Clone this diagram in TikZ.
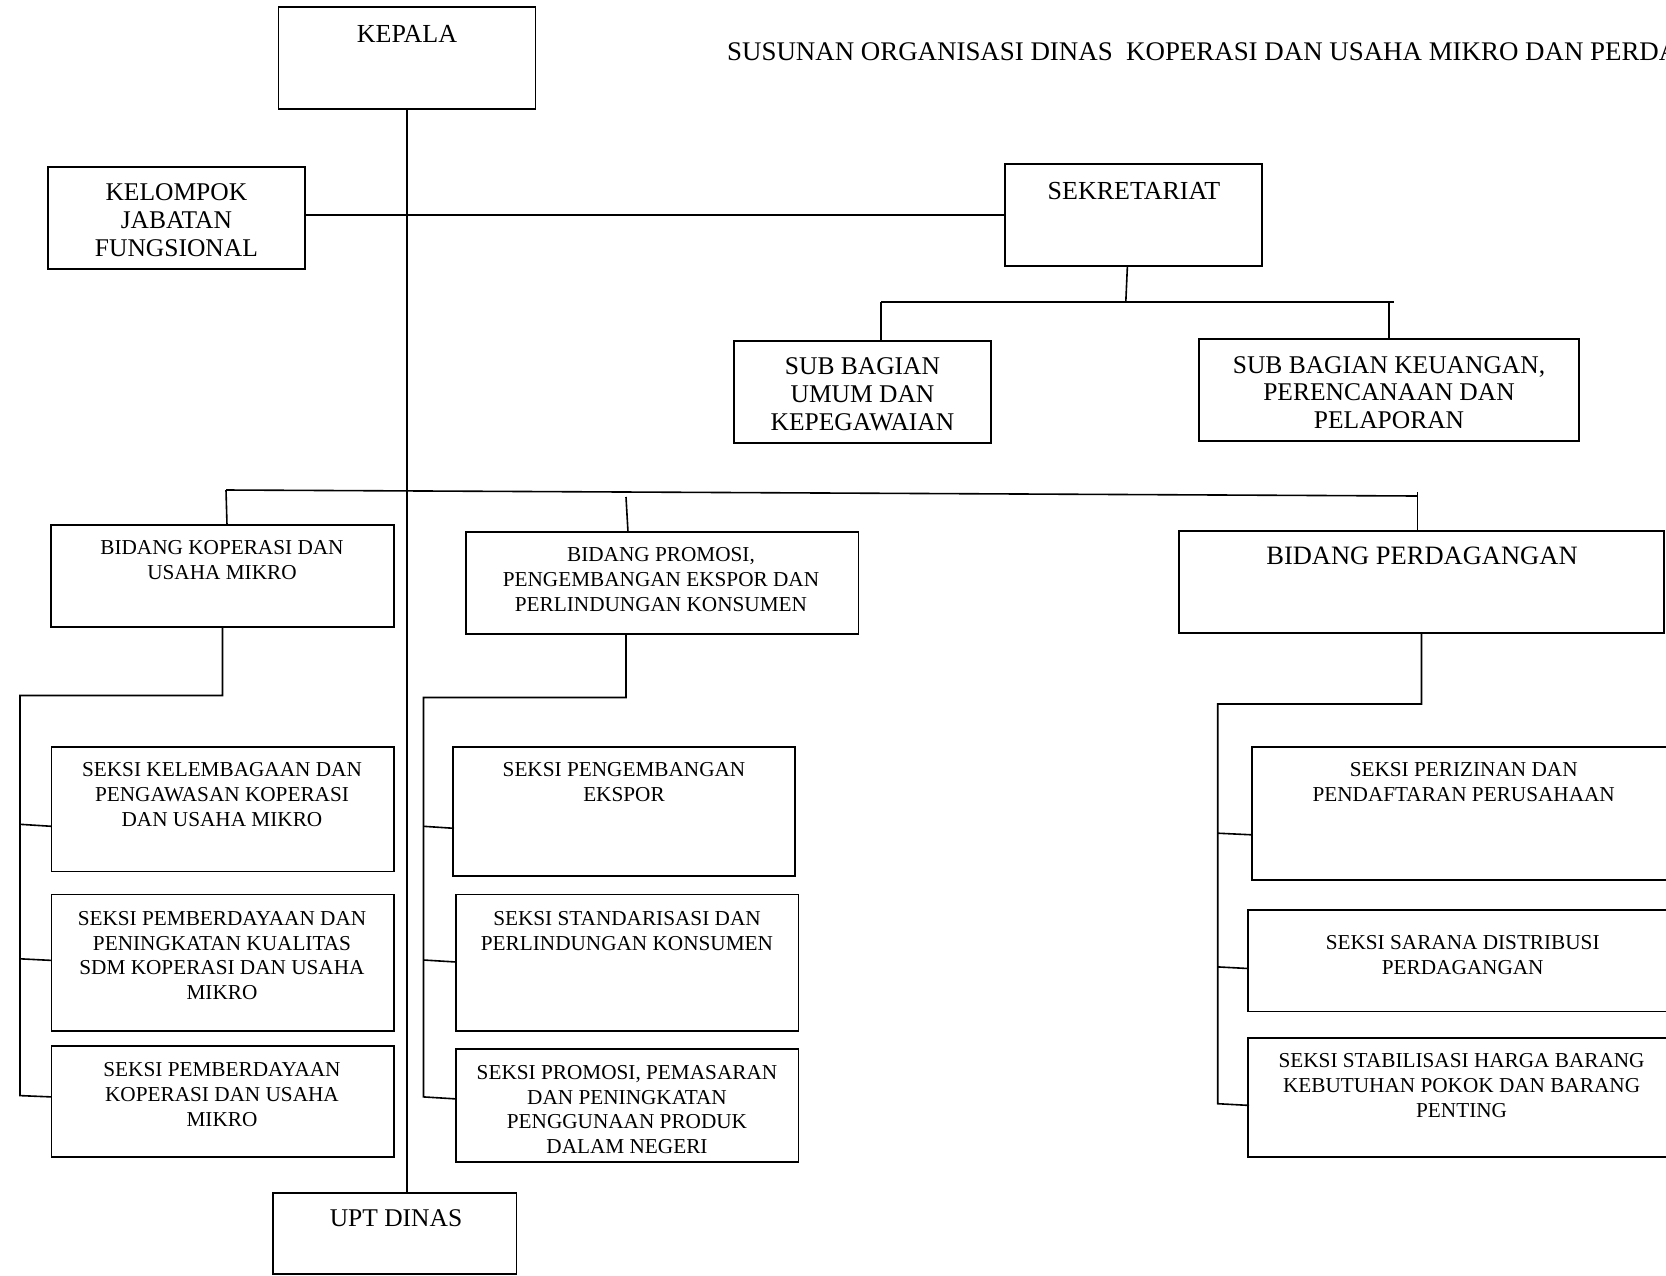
\documentclass[tikz,border=0pt]{standalone}
\usepackage{fontspec}
\setmainfont{Liberation Serif}
\usetikzlibrary{calc}
\begin{document}
\begin{tikzpicture}[x=1pt,y=-1pt,
  box/.style={draw, line width=1.6pt, inner sep=0pt, outer sep=0pt},
  wire/.style={line width=1.6pt, line join=miter},
  sm/.style={anchor=north, align=center, inner sep=0pt, font=\fontsize{21.25}{24.8}\selectfont},
  lg/.style={anchor=north, align=center, inner sep=0pt, font=\fontsize{26}{27.7}\selectfont},
  md/.style={anchor=north, align=center, inner sep=0pt, font=\fontsize{25.5}{27.7}\selectfont}]

\useasboundingbox (0,0) rectangle (1666,1275);
\clip (0,0) rectangle (1666,1275);

% title
\node[anchor=base west, inner sep=0pt, font=\fontsize{26.9}{30}\selectfont] (title) at (727,60)
  {SUSUNAN ORGANISASI DINAS\ \ KOPERASI DAN USAHA MIKRO DAN PERDAGANGAN};

% boxes
\node[box, minimum width=257.2pt, minimum height=102pt] (kepala) at (407,58) {};
\node[box, minimum width=257.2pt, minimum height=102pt] (kelompok) at (176.4,218) {};
\node[box, minimum width=257pt, minimum height=102pt] (sekretariat) at (1133.5,215) {};
\node[box, minimum width=257pt, minimum height=102pt] (umum) at (862.5,392) {};
\node[box, minimum width=380pt, minimum height=102pt] (keuangan) at (1389,390) {};
\node[box, minimum width=343pt, minimum height=102pt] (bkop) at (222.5,576) {};
\node[box, minimum width=392.5pt, minimum height=102pt] (bprom) at (662.25,583) {};
\node[box, minimum width=485pt, minimum height=102pt] (bdag) at (1421.5,582) {};
\node[box, minimum width=342.5pt, minimum height=124.4pt] (sa1) at (222.75,809.1) {};
\node[box, minimum width=342.5pt, minimum height=136.4pt] (sa2) at (222.75,962.6) {};
\node[box, minimum width=342.5pt, minimum height=111pt] (sa3) at (222.75,1101.3) {};
\node[box, minimum width=342.3pt, minimum height=129.2pt] (sb1) at (623.85,811.5) {};
\node[box, minimum width=342.6pt, minimum height=136.4pt] (sb2) at (627.3,962.6) {};
\node[box, minimum width=342.6pt, minimum height=113.3pt] (sb3) at (627.3,1105.35) {};
\node[box, minimum width=424.3pt, minimum height=132.9pt] (sc1) at (1463.85,813.35) {};
\node[box, minimum width=429pt, minimum height=101.7pt] (sc2) at (1462.5,960.55) {};
\node[box, minimum width=427pt, minimum height=118.7pt] (sc3) at (1461.5,1097.45) {};
\node[box, minimum width=243.5pt, minimum height=81pt] (upt) at (394.75,1233.5) {};

% box texts
\node[lg] (kepalaT) at (407,25.4) {KEPALA};
\node[md] (kelompokT) at (176.4,183.7) {KELOMPOK\\JABATAN\\FUNGSIONAL};
\node[lg] (sekretariatT) at (1134,182.4) {SEKRETARIAT};
\node[md] (umumT) at (862.5,357.7) {SUB BAGIAN\\UMUM DAN\\KEPEGAWAIAN};
\node[md] (keuanganT) at (1389,356.2) {SUB BAGIAN KEUANGAN,\\PERENCANAAN DAN\\PELAPORAN};
\node[sm] (bkopT) at (222,540.6) {BIDANG KOPERASI DAN\\USAHA MIKRO};
\node[sm] (bpromT) at (661,547.6) {BIDANG PROMOSI,\\PENGEMBANGAN EKSPOR DAN\\PERLINDUNGAN KONSUMEN};
\node[lg, font=\fontsize{26.5}{28}\selectfont] (bdagT) at (1422,547.1) {BIDANG PERDAGANGAN};
\node[sm] (sa1T) at (222,762.5) {SEKSI KELEMBAGAAN DAN\\PENGAWASAN KOPERASI\\DAN USAHA MIKRO};
\node[sm] (sa2T) at (222,911.1) {SEKSI PEMBERDAYAAN DAN\\PENINGKATAN KUALITAS\\SDM KOPERASI DAN USAHA\\MIKRO};
\node[sm] (sa3T) at (222,1062.2) {SEKSI PEMBERDAYAAN\\KOPERASI DAN USAHA\\MIKRO};
\node[sm] (sb1T) at (624,762.5) {SEKSI PENGEMBANGAN\\EKSPOR};
\node[sm] (sb2T) at (627,911.1) {SEKSI STANDARISASI DAN\\PERLINDUNGAN KONSUMEN};
\node[sm] (sb3T) at (627,1065) {SEKSI PROMOSI, PEMASARAN\\DAN PENINGKATAN\\PENGGUNAAN PRODUK\\DALAM NEGERI};
\node[sm] (sc1T) at (1463.7,762.5) {SEKSI PERIZINAN DAN\\PENDAFTARAN PERUSAHAAN};
\node[sm] (sc2T) at (1462.7,935.4) {SEKSI SARANA DISTRIBUSI\\PERDAGANGAN};
\node[sm] (sc3T) at (1461.6,1053.7) {SEKSI STABILISASI HARGA BARANG\\KEBUTUHAN POKOK DAN BARANG\\PENTING};
\node[md] (uptT) at (396,1209.2) {UPT DINAS};

% junction points of the connectors
\coordinate (sekTop) at (1127.4,266);
\coordinate (sekJ) at (1125.8,302);
\coordinate (sekL) at (881,302);
\coordinate (sekR) at (1393.6,302);
\coordinate (barL) at (226,490);
\coordinate (barR) at (1417.5,496);
\coordinate (bkTick) at (227,525);
\coordinate (bpTop) at (626,497);
\coordinate (bpTick) at (628,532);
\coordinate (bdTop) at (1417.5,492);
\coordinate (lTop) at (20,695.5);
\coordinate (mDrop) at (626,634);
\coordinate (mTop) at (423.5,697.5);
\coordinate (rTop) at (1217.7,704);

% main spine and staff line
\draw[wire] (kepala.south) -- (kepala.south |- upt.north);
\draw[wire] (sekretariat.west -| kelompok.east) -- (sekretariat.west);

% secretariat branch
\draw[wire] (sekTop) -- (sekJ);
\draw[wire] (sekL) -- (sekR);
\draw[wire] (sekL) -- (sekL |- umum.north);
\draw[wire] (keuangan.north |- sekR) -- (keuangan.north);

% bidang bar
\draw[wire] (barL) -- (barR);
\draw[wire] (barL) -- (bkTick);
\draw[wire] (bpTop) -- (bpTick);
\draw[wire] (bdTop) -- (bdTop |- bdag.north);

% bidang koperasi sections
\draw[wire] (bkop.south) |- (lTop) -- (20,1095.6) -- (51.5,1096.9);
\draw[wire] (20,824.3) -- (51.5,826.3);
\draw[wire] (20,958.8) -- (51.5,960.4);

% bidang promosi sections
\draw[wire] (mDrop) -- (mDrop |- mTop) -- (mTop) -- (423.5,1096.9) -- (456,1098.9);
\draw[wire] (423.5,826.3) -- (454,828.3);
\draw[wire] (423.5,960) -- (456,962);

% bidang perdagangan sections
\draw[wire] (bdag.south) -- (bdag.south |- rTop) -- (rTop) -- (1217.7,1103.7) -- (1249,1105.4);
\draw[wire] (1217.7,833.2) -- (1251.7,834.8);
\draw[wire] (1217.7,966.9) -- (1248,968.5);
\end{tikzpicture}
\end{document}
